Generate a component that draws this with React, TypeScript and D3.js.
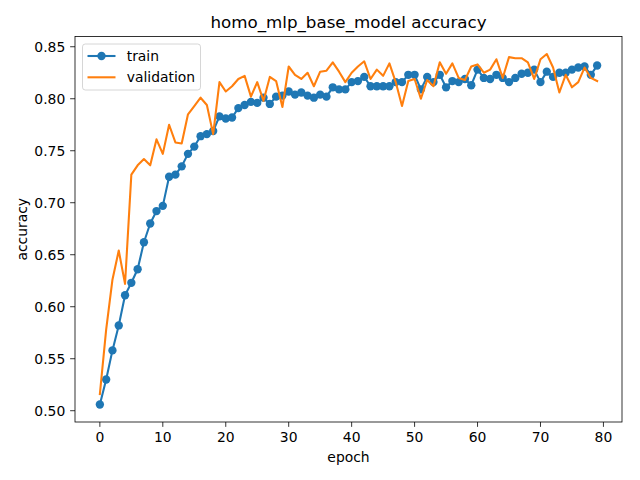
import React from "react";
import * as d3 from "d3";

const title = "homo_mlp_base_model accuracy";
const xLabel = "epoch";
const yLabel = "accuracy";
const seriesNames = ["train", "validation"];
const xTicks = [0, 10, 20, 30, 40, 50, 60, 70, 80];
const yTicks = [0.5, 0.55, 0.6, 0.65, 0.7, 0.75, 0.8, 0.85];

const train = [
  0.506, 0.530, 0.558, 0.582, 0.611, 0.623, 0.636, 0.662, 0.680, 0.692,
  0.697, 0.725, 0.727, 0.735, 0.747, 0.754, 0.764, 0.766, 0.769, 0.783,
  0.781, 0.782, 0.791, 0.794, 0.797, 0.796, 0.801, 0.795, 0.802, 0.803,
  0.807, 0.804, 0.806, 0.803, 0.801, 0.804, 0.802, 0.811, 0.809, 0.809,
  0.816, 0.817, 0.821, 0.812, 0.812, 0.812, 0.812, 0.816, 0.816, 0.823,
  0.823, 0.809, 0.821, 0.816, 0.823, 0.811, 0.817, 0.816, 0.819, 0.813,
  0.828, 0.820, 0.819, 0.823, 0.820, 0.816, 0.820, 0.824, 0.825, 0.828,
  0.816, 0.826, 0.821, 0.825, 0.825, 0.828, 0.830, 0.831, 0.823, 0.832,
];

const validation = [
  0.516, 0.578, 0.626, 0.654, 0.622, 0.727, 0.736, 0.742, 0.736, 0.761,
  0.747, 0.775, 0.758, 0.757, 0.785, 0.793, 0.801, 0.794, 0.766, 0.816,
  0.807, 0.812, 0.819, 0.822, 0.802, 0.816, 0.798, 0.821, 0.817, 0.792,
  0.831, 0.823, 0.819, 0.825, 0.812, 0.826, 0.827, 0.835, 0.826, 0.816,
  0.825, 0.831, 0.836, 0.819, 0.828, 0.822, 0.834, 0.816, 0.793, 0.817,
  0.819, 0.800, 0.818, 0.812, 0.835, 0.824, 0.834, 0.820, 0.818, 0.831,
  0.833, 0.825, 0.828, 0.838, 0.820, 0.840, 0.839, 0.839, 0.835, 0.819,
  0.838, 0.843, 0.830, 0.806, 0.823, 0.811, 0.816, 0.830, 0.820, 0.817,
];

const W = 640;
const H = 480;
const left = 75;
const right = 622;
const top = 36.5;
const bottom = 422;
const font = "'DejaVu Sans', sans-serif";
const colors = ["#1f77b4", "#ff7f0e"];

export default function App() {
  const n = train.length;
  const xMin = 0;
  const xMax = n - 1;
  const xPad = (xMax - xMin) * 0.05;
  const x = d3.scaleLinear().domain([xMin - xPad, xMax + xPad]).range([left, right]);
  const all = [...train, ...validation];
  const yLo = d3.min(all) as number;
  const yHi = d3.max(all) as number;
  const yPad = (yHi - yLo) * 0.05;
  const y = d3.scaleLinear().domain([yLo - yPad, yHi + yPad]).range([bottom, top]);
  const line = d3
    .line<number>()
    .x((_, i) => x(i))
    .y((d) => y(d));

  const tickLen = 4.86;
  const fs = 13.9;

  return (
    <div style={{ position: "fixed", left: 0, top: 0 }}>
      <svg width={W} height={H} style={{ display: "block", background: "#fff" }}>
        <rect x={0} y={0} width={W} height={H} fill="#fff" />
        <text
          x={(left + right) / 2}
          y={28}
          textAnchor="middle"
          fontFamily={font}
          fontSize={16.7}
          fill="#000"
        >
          {title}
        </text>

        {/* x ticks */}
        {xTicks.map((t) => (
          <g key={"x" + t}>
            <line x1={x(t)} x2={x(t)} y1={bottom} y2={bottom + tickLen} stroke="#000" strokeWidth={0.8} />
            <text x={x(t)} y={bottom + tickLen + 4.9 + fs * 0.76} textAnchor="middle" fontFamily={font} fontSize={fs} fill="#000">
              {t}
            </text>
          </g>
        ))}
        {/* y ticks */}
        {yTicks.map((t) => (
          <g key={"y" + t}>
            <line x1={left - tickLen} x2={left} y1={y(t)} y2={y(t)} stroke="#000" strokeWidth={0.8} />
            <text x={left - tickLen - 4.9} y={y(t)} dy="0.36em" textAnchor="end" fontFamily={font} fontSize={fs} fill="#000">
              {t.toFixed(2)}
            </text>
          </g>
        ))}

        <text x={(left + right) / 2} y={462} textAnchor="middle" fontFamily={font} fontSize={fs} fill="#000">
          {xLabel}
        </text>
        <text
          transform={`translate(27,${(top + bottom) / 2}) rotate(-90)`}
          textAnchor="middle"
          fontFamily={font}
          fontSize={fs}
          fill="#000"
        >
          {yLabel}
        </text>

        <defs>
          <clipPath id="plotclip">
            <rect x={left} y={top} width={right - left} height={bottom - top} />
          </clipPath>
        </defs>

        <g clipPath="url(#plotclip)">
          <path d={line(train) || ""} fill="none" stroke={colors[0]} strokeWidth={2.08} strokeLinejoin="round" strokeLinecap="square" />
          {train.map((v, i) => (
            <circle key={"m" + i} cx={x(i)} cy={y(v)} r={4.17} fill={colors[0]} />
          ))}
          <path d={line(validation) || ""} fill="none" stroke={colors[1]} strokeWidth={2.08} strokeLinejoin="round" strokeLinecap="square" />
        </g>

        <rect x={left} y={top} width={right - left} height={bottom - top} fill="none" stroke="#000" strokeWidth={0.8} />

        {/* legend */}
        <g>
          <rect x={82.5} y={44} width={118} height={46} rx={2.8} fill="#fff" fillOpacity={0.8} stroke="#cccccc" strokeWidth={0.8} />
          {seriesNames.map((name, i) => {
            const cy = 56 + i * 21.3;
            return (
              <g key={name}>
                <line x1={87.5} x2={115.5} y1={cy} y2={cy} stroke={colors[i]} strokeWidth={2.08} />
                {i === 0 && <circle cx={101.5} cy={cy} r={4.17} fill={colors[i]} />}
                <text x={126.7} y={cy} dy="0.36em" fontFamily={font} fontSize={fs} fill="#000">
                  {name}
                </text>
              </g>
            );
          })}
        </g>
      </svg>
    </div>
  );
}
